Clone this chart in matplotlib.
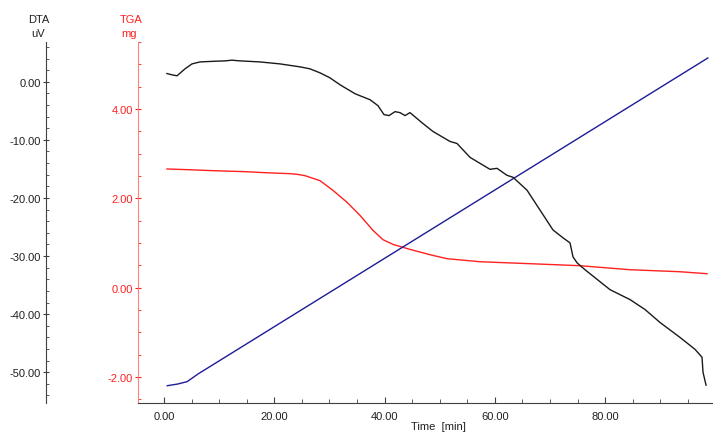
import matplotlib
matplotlib.use("Agg")
import matplotlib.pyplot as plt
from matplotlib.ticker import FixedLocator, MultipleLocator, FormatStrFormatter

plt.rcParams['font.family'] = ['Liberation Sans', 'DejaVu Sans']
plt.rcParams['font.size'] = 8

# DTA signal (uV)
dta_time = [0.54, 1.45, 2.36, 3.81, 5.08, 6.53, 9.25, 11.06, 12.33, 13.78,
            17.41, 21.03, 24.66, 26.47, 28.29, 30.10, 31.91, 33.73, 34.63,
            35.54, 37.35, 38.80, 39.89, 40.80, 41.89, 42.79, 43.70, 44.60,
            46.96, 48.78, 51.86, 53.13, 55.49, 57.30, 59.11, 60.38, 62.19,
            63.28, 65.82, 68.18, 70.53, 72.40, 73.62, 74.16, 74.89, 76.34,
            78.15, 80.87, 84.50, 87.22, 89.94, 93.56, 96.28, 97.55, 97.73,
            98.28]
dta_uv = [1.42, 1.20, 1.03, 2.23, 3.08, 3.42, 3.54, 3.60, 3.72, 3.60,
          3.42, 3.08, 2.57, 2.23, 1.54, 0.68, -0.51, -1.54, -2.05,
          -2.40, -3.08, -4.11, -5.65, -5.82, -5.14, -5.31, -5.82, -5.31,
          -7.19, -8.56, -10.27, -10.62, -13.01, -14.04, -15.07, -14.90, -16.10,
          -16.44, -18.66, -22.09, -25.51, -26.90, -27.74, -30.14, -31.16, -32.36,
          -33.73, -35.79, -37.50, -39.21, -41.44, -44.01, -46.06, -47.43, -50.00,
          -52.23]

# TGA mass (mg)
tga_time = [0.54, 4.17, 8.88, 14.69, 18.31, 22.85, 24.05, 25.57, 28.29,
            30.64, 33.13, 35.54, 37.90, 39.71, 41.52, 44.61, 48.23, 51.31,
            57.30, 66.36, 75.43, 84.50, 93.56, 98.46]
tga_mg = [2.658, 2.643, 2.620, 2.598, 2.575, 2.553, 2.540, 2.508, 2.396,
          2.179, 1.919, 1.619, 1.283, 1.075, 0.970, 0.858, 0.739, 0.650,
          0.582, 0.538, 0.493, 0.403, 0.358, 0.314]

# furnace temperature (C), no axis drawn for it
temp_time = [0.6, 2.5, 4.2, 6.2, 98.6]
temp_c = [30, 35, 42, 65, 1000]

dta_ticks = [0, -10, -20, -30, -40, -50]
tga_ticks = [-2, 0, 2, 4]
time_ticks = [0, 20, 40, 60, 80]

grey = '#404040'
red = '#ff2020'

fig = plt.figure(figsize=(7.13, 4.35), dpi=100)
W, H = 713, 435
ax = fig.add_axes([138 / W, 31 / H, 574 / W, 361 / H])

# temperature ramp on a hidden axis
ax_t = ax.twinx()
ax_t.plot(temp_time, temp_c, color='#1c1c96', lw=1)
ax_t.set_ylim(-21.2, 1047.4)
ax_t.axis('off')

# TGA on the main axis
ax.plot(tga_time, tga_mg, color=red, lw=1)
ax.set_ylim(-2.58, 5.5)
ax.set_xlim(-4.71, 99.36)
ax.yaxis.set_major_locator(FixedLocator(tga_ticks))
ax.yaxis.set_minor_locator(MultipleLocator(0.5))
ax.yaxis.set_major_formatter(FormatStrFormatter('%.2f'))
ax.tick_params(axis='y', which='major', direction='inout', length=5,
               color=red, labelcolor=red, pad=1)
ax.tick_params(axis='y', which='minor', direction='in', length=2, color=red)
ax.spines['left'].set_color('#ff8080')

ax.xaxis.set_major_locator(FixedLocator(time_ticks))
ax.xaxis.set_minor_locator(MultipleLocator(5))
ax.xaxis.set_major_formatter(FormatStrFormatter('%.2f'))
ax.tick_params(axis='x', which='major', direction='in', length=4,
               color=grey, labelcolor='#202020', pad=6)
ax.tick_params(axis='x', which='minor', direction='in', length=3, color=grey)
ax.spines['bottom'].set_color(grey)
for s in ['top', 'right']:
    ax.spines[s].set_visible(False)

# DTA on a detached axis further left
ax_d = ax.twinx()
ax_d.plot(dta_time, dta_uv, color='#1a1a1a', lw=1)
ax_d.set_ylim(-55.3, 6.85)
ax_d.yaxis.set_label_position('left')
ax_d.yaxis.set_ticks_position('left')
ax_d.spines['left'].set_position(('outward', 92 * 72 / 100))
ax_d.spines['left'].set_color(grey)
for s in ['top', 'right', 'bottom']:
    ax_d.spines[s].set_visible(False)
ax_d.yaxis.set_major_locator(FixedLocator(dta_ticks))
ax_d.yaxis.set_minor_locator(MultipleLocator(2))
ax_d.yaxis.set_major_formatter(FormatStrFormatter('%.2f'))
ax_d.tick_params(axis='y', which='major', direction='inout', length=5,
                 color=grey, labelcolor='#202020', pad=1)
ax_d.tick_params(axis='y', which='minor', direction='in', length=2, color=grey)

# axis captions
fig.text(39 / W, 1 - 20 / H, 'DTA', ha='center', va='center', color='#202020')
fig.text(38 / W, 1 - 34 / H, 'uV', ha='center', va='center', color='#202020')
fig.text(131 / W, 1 - 20 / H, 'TGA', ha='center', va='center', color=red)
fig.text(129 / W, 1 - 34 / H, 'mg', ha='center', va='center', color=red)
fig.text(438 / W, 1 - 427 / H, 'Time  [min]', ha='center', va='center',
         color='#202020')

fig.savefig('out.png', dpi=100)
